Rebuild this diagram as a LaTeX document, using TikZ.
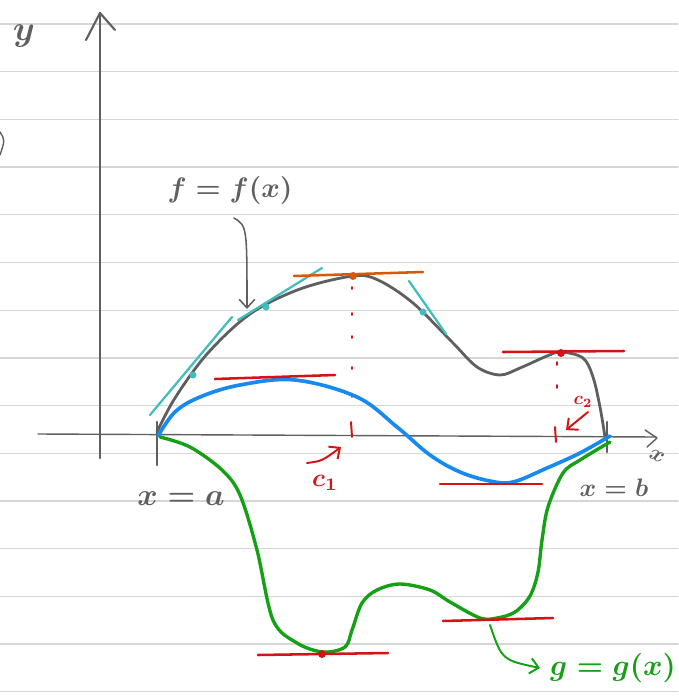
\documentclass[tikz,border=0pt]{standalone}
\usepackage{tikz}
\usetikzlibrary{arrows.meta}

\definecolor{paperline}{RGB}{214,214,214}
\definecolor{pencil}{RGB}{95,95,95}
\definecolor{tealpen}{RGB}{64,190,190}
\definecolor{bluepen}{RGB}{22,138,240}
\definecolor{greenpen}{RGB}{22,160,22}
\definecolor{redpen}{RGB}{212,20,20}
\definecolor{orangepen}{RGB}{214,90,12}

\tikzset{
  rule/.style={draw=paperline, line width=0.9pt},
  pencil/.style={draw=pencil, line width=1.5pt},
  tangentline/.style={draw=tealpen, line width=1.6pt},
  flatline/.style={draw=redpen, line width=1.8pt},
  hint/.style={draw=redpen, line width=1.4pt},
  barb/.style={-{Straight Barb[length=6pt,width=11pt]}},
  scribble/.style={inner sep=0pt, text=pencil, font=\boldmath}
}

\begin{document}
\begin{tikzpicture}[x=0.025cm, y=-0.025cm, line cap=round, line join=round]
    \useasboundingbox (0,0) rectangle (678,697);

    % Ruled paper
    \foreach \k in {0,...,14} {
        \draw[rule] (0,{24+47.7*\k}) -- (678,{24+47.7*\k});
    }
    \draw[pencil, line width=1pt] (0,132) .. controls (5,140) .. (0,155);

    % Axes
    \draw[pencil] (100,458) -- (100,13);
    \draw[pencil] (86,40) -- (100,13) -- (115,30);
    \node[scribble, scale=2.5] (ylab) at (24,36) {$y$};
    \draw[pencil, line width=1pt] (38,434) -- (656,437);
    \draw[pencil, line width=1pt] (645,430) -- (657,438) -- (647,447);
    \node[scribble, scale=1.6, rotate=-25] (xlab) at (657,456) {$x$};

    % Ends of the interval
    \draw[pencil, line width=2pt] (157,422) -- (157,465);
    \draw[pencil, line width=2pt] (607,422) -- (607,452);
    \node[scribble, scale=2.2] (alab) at (181,499) {$x=a$};
    \node[scribble, scale=1.8] (blab) at (614,488) {$x=b$};

    % f = f(x)
    \draw[pencil, line width=2pt] plot[smooth, tension=0.55] coordinates {
        (157,432) (175,398) (207,354) (250,314) (300,289) (353,276) (378,280)
        (413,303) (453,343) (477,367) (500,375) (520,368) (547,356) (561,352)
        (583,358) (593,377) (600,407) (605,437)};
    \node[scribble, scale=2] (flab) at (230,190) {$f=f(x)$};
    \draw[pencil, line width=1.1pt, barb] (234,218) .. controls (247,226) .. (247,309);

    % Tangent lines along f
    \draw[tangentline] (150,415) -- (232,317);
    \draw[tangentline] (238,320) -- (322,268);
    \draw[tangentline] (409,281) -- (446,334);
    \fill[tealpen] (193,375) circle (3.5) (266,307) circle (3.5) (423,312) circle (3.5);
    \draw[draw=orangepen, line width=1.8pt] (294,276) -- (423,272);
    \fill[orangepen] (353,276) circle (4);
    \draw[flatline] (503,352) -- (624,351);
    \fill[redpen] (561,353) circle (4);

    % c1 and c2
    \foreach \y in {287,313,336,367,395} {
        \draw[hint] (352,\y) -- (352,{\y+2});
    }
    \draw[hint] (351,422) -- (352,437);
    \draw[hint, barb] (307,463) .. controls (322,461) .. (341,447);
    \node[scribble, text=redpen, scale=1.8] (c1) at (325,483) {$c_1$};
    \foreach \y in {362,385} {
        \draw[hint] (557,\y) -- (557,{\y+3});
    }
    \draw[hint] (555,427) -- (556,442);
    \draw[hint, barb] (588,412) -- (566,430);
    \node[scribble, text=redpen, scale=1.3] (c2) at (583,402) {$c_2$};

    % h between the two
    \draw[draw=bluepen, line width=2.6pt] plot[smooth, tension=0.6] coordinates {
        (158,436) (175,412) (200,397) (240,385) (295,380) (357,397)
        (397,427) (430,455) (460,472) (490,481) (513,482) (547,468) (580,453)
        (610,436)};
    \draw[flatline] (215,379) -- (335,375);
    \draw[flatline] (440,484) -- (542,484);

    % g = g(x)
    \draw[draw=greenpen, line width=2.4pt] plot[smooth, tension=0.55] coordinates {
        (160,437) (190,447) (222,470) (240,495) (257,550) (273,620) (297,643)
        (323,652) (345,647) (352,630) (362,603) (377,590) (400,584) (430,590)
        (450,602) (480,618) (497,618) (515,612) (530,596) (538,572) (542,540)
        (548,507) (563,473) (580,460) (610,442)};
    \draw[flatline] (258,655) -- (388,653);
    \fill[redpen] (322,654) circle (4);
    \draw[flatline] (443,621) -- (553,618);
    \draw[draw=greenpen, line width=1.4pt, barb] (490,625) .. controls (502,660) .. (540,668);
    \node[scribble, text=greenpen, scale=2.1] (glab) at (613,668) {$g=g(x)$};

\end{tikzpicture}
\end{document}
